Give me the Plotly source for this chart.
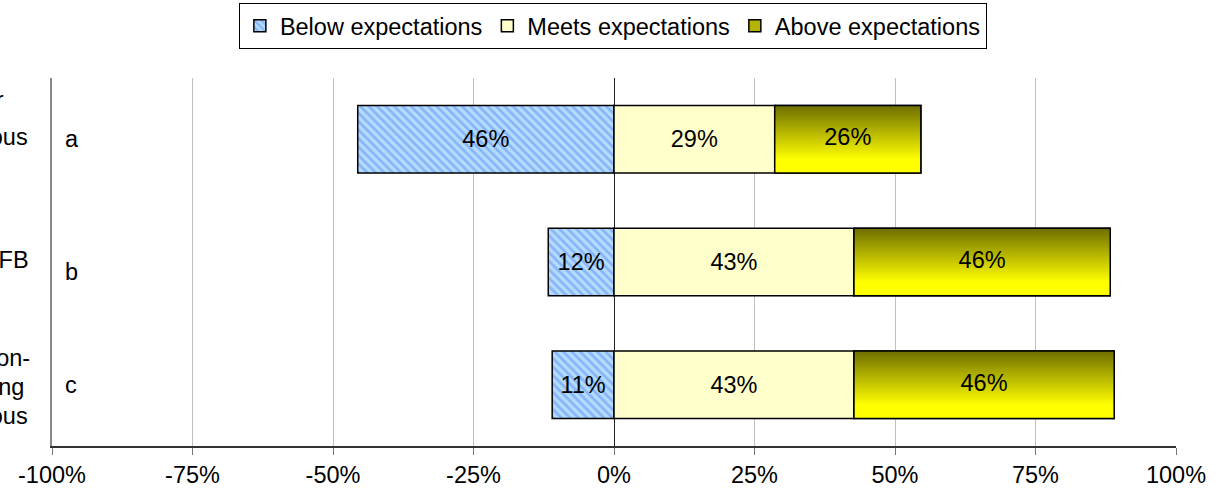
import plotly.graph_objects as go

# Survey responses per item (percent of respondents)
categories = ["a", "b", "c"]
below = [45.6, 11.7, 11.0]
meets = [28.6, 42.7, 42.7]
above = [26.0, 45.6, 46.3]
series_names = ["Below expectations", "Meets expectations", "Above expectations"]
tick_values = [-100, -75, -50, -25, 0, 25, 50, 75, 100]
tick_labels = ["-100%", "-75%", "-50%", "-25%", "0%", "25%", "50%", "75%", "100%"]

# Long item descriptions, partly running off the left edge of the canvas
outer_lines = [
    ["Teacher", "continuous"],
    ["Written FB"],
    ["Common-", "grading", "continuous"],
]

FONT = "Liberation Sans, Arial, sans-serif"
FS = 23.5
BAR_W = 0.55
ypos = list(range(len(categories)))

fig = go.Figure()

# Negative side: "below" share drawn leftwards from zero
fig.add_trace(go.Bar(
    y=ypos, x=[-v for v in below], base=0, orientation="h", width=BAR_W,
    name=series_names[0],
    marker=dict(color="#a8d4ff",
                pattern=dict(shape="\\", fgcolor="#5a8cf2", bgcolor="#b4dcff",
                             size=6, solidity=0.45),
                line=dict(color="black", width=1.5)),
    text=[f"{v:.0f}%" for v in below], textposition="inside",
    insidetextanchor="middle", textangle=0, constraintext="none",
    textfont=dict(family=FONT, size=FS, color="black"),
    hoverinfo="skip",
))

fig.add_trace(go.Bar(
    y=ypos, x=meets, base=0, orientation="h", width=BAR_W,
    name=series_names[1],
    marker=dict(color="#ffffcc", line=dict(color="black", width=1.5)),
    text=[f"{v:.0f}%" for v in meets], textposition="inside",
    insidetextanchor="middle", textangle=0, constraintext="none",
    textfont=dict(family=FONT, size=FS, color="black"),
    hoverinfo="skip",
))

# Legend carrier for the upper segment; the visible fill is a gradient polygon on top
fig.add_trace(go.Bar(
    y=ypos, x=above, base=meets, orientation="h", width=BAR_W,
    name=series_names[2],
    marker=dict(color="#b4b400", line=dict(color="black", width=1.5)),
    hoverinfo="skip",
))

for i, (m, a) in enumerate(zip(meets, above)):
    x0, x1 = m, m + a
    y0, y1 = i - BAR_W / 2, i + BAR_W / 2
    fig.add_trace(go.Scatter(
        x=[x0, x1, x1, x0, x0], y=[y0, y0, y1, y1, y0],
        mode="lines", fill="toself",
        fillgradient=dict(type="vertical", start=y0, stop=y1,
                          colorscale=[[0, "#6e6e00"], [0.8, "#ffff00"], [1, "#ffff00"]]),
        line=dict(color="black", width=1.5),
        showlegend=False, hoverinfo="skip",
    ))
    fig.add_trace(go.Scatter(
        x=[(x0 + x1) / 2], y=[i], mode="text", text=[f"{a:.0f}%"],
        textfont=dict(family=FONT, size=FS, color="black"),
        showlegend=False, hoverinfo="skip",
    ))

# Short item letters inside the plot, next to the left axis
letter_shift = [0, -10, 0]
for i, c in enumerate(categories):
    fig.add_annotation(
        x=0.01, xref="paper", y=i, yref="y", text=c, showarrow=False,
        xanchor="left", yshift=letter_shift[i],
        font=dict(family=FONT, size=FS, color="black"),
    )

# Descriptions to the left of the axis (pixel offsets relative to the plot edge)
L, PW, T, PH = 52, 1124, 78, 368
line_y = [[100, 137], [260], [358, 387, 416]]
line_right = [[6, 30], [31], [32, 26, 30]]
for lines, ys, xs in zip(outer_lines, line_y, line_right):
    for t, yy, xx in zip(lines, ys, xs):
        fig.add_annotation(
            x=(xx - L) / PW, xref="paper", y=1 - (yy - T) / PH, yref="paper",
            text=t, showarrow=False, xanchor="right", yanchor="middle",
            font=dict(family=FONT, size=FS, color="black"),
        )

fig.update_layout(
    width=1228, height=500,
    margin=dict(l=52, r=52, t=78, b=54, autoexpand=False),
    paper_bgcolor="white", plot_bgcolor="white",
    barmode="overlay",
    font=dict(family=FONT, size=FS, color="black"),
    showlegend=True,
    legend=dict(orientation="h", x=0.499, xanchor="center",
                y=1 + (T - 26) / PH, yanchor="middle",
                bordercolor="black", borderwidth=1, bgcolor="white",
                font=dict(family=FONT, size=FS, color="black"),
                traceorder="normal"),
    xaxis=dict(range=[-100, 100], tickvals=tick_values, ticktext=tick_labels,
               showgrid=True, gridcolor="#c0c0c0", gridwidth=1,
               zeroline=True, zerolinecolor="#222222", zerolinewidth=1,
               showline=True, linecolor="#333333", linewidth=1.5,
               ticks="outside", ticklen=7, tickcolor="#777777",
               tickfont=dict(family=FONT, size=FS, color="black"),
               fixedrange=True),
    yaxis=dict(range=[2.5, -0.5], showticklabels=False, showgrid=False,
               zeroline=False, showline=True, linecolor="#888888", linewidth=1.5,
               ticks="", fixedrange=True),
    yaxis2=dict(overlaying="y", anchor="free", position=0.5, side="left",
                range=[2.5, -0.5], tickvals=[0.5, 1.5], ticks="outside",
                ticklen=7, tickcolor="#777777", showticklabels=False,
                showgrid=False, zeroline=False, showline=False, fixedrange=True),
)

fig.write_html("out.html")
